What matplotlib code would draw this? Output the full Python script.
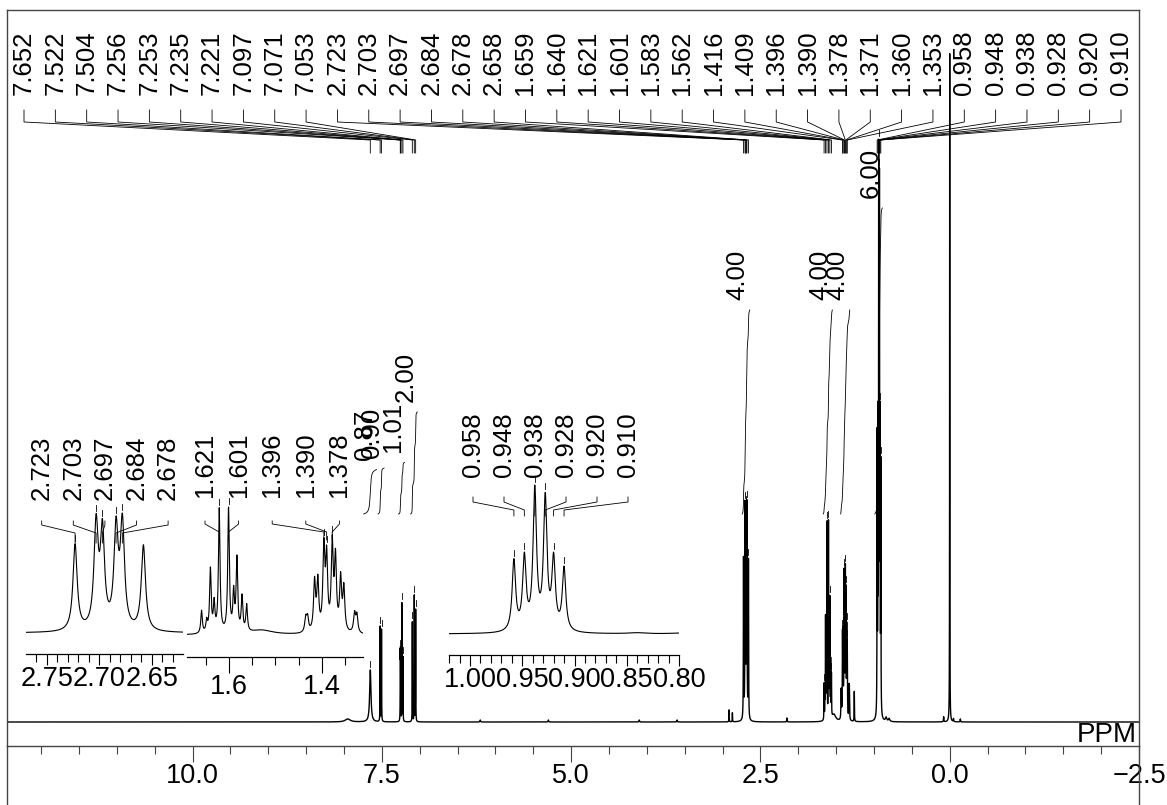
import numpy as np
import matplotlib.pyplot as plt
from matplotlib.lines import Line2D
from matplotlib.ticker import MultipleLocator, FixedLocator
from matplotlib.transforms import Affine2D, blended_transform_factory

plt.rcParams["font.family"] = ["Liberation Sans", "DejaVu Sans"]

W, H = 1167, 805

# picked lines (ppm) and their heights, one set per multiplet
arom_ppm = [7.652, 7.522, 7.504, 7.256, 7.253, 7.235, 7.221, 7.097, 7.071, 7.053]
arom_hgt = [52, 95, 92, 60, 62, 118, 64, 100, 126, 112]
arom_wid = [0.010, 0.0016, 0.0016, 0.0015, 0.0015, 0.0015, 0.0015, 0.0015, 0.0015, 0.0015]

ch2a_ppm = [2.723, 2.703, 2.697, 2.684, 2.678, 2.658]
ch2a_hgt = [160, 190, 175, 180, 190, 158]

ch2b_ppm = [1.659, 1.640, 1.621, 1.601, 1.583, 1.562]
ch2b_hgt = [36, 100, 195, 195, 115, 42]

ch2c_ppm = [1.416, 1.409, 1.396, 1.390, 1.378, 1.371, 1.360, 1.353]
ch2c_hgt = [78, 78, 128, 112, 135, 112, 82, 68]

ch3_ppm = [0.958, 0.948, 0.938, 0.928, 0.920, 0.910]
ch3_hgt = [275, 282, 545, 510, 272, 245]

# half widths (ppm) of each multiplet
ch2a_w, ch2b_w, ch2c_w, ch3_w = 0.0024, 0.0020, 0.0025, 0.0020

# unpicked lines inside the multiplets
extra_ppm = [1.648, 1.632, 1.590, 1.572, 1.435, 1.431, 1.330, 1.325]
extra_hgt = [18, 45, 60, 55, 22, 22, 30, 28]
extra_wid = [0.002, 0.002, 0.002, 0.002, 0.0025, 0.0025, 0.0025, 0.0025]

# TMS, solvent and impurity lines
other_ppm = [7.95, 6.20, 5.30, 4.10, 3.60, 2.914, 2.870, 2.150, 1.530, 1.260,
             0.840, 0.800, 0.080, 0.000, -0.050, -0.140]
other_hgt = [3, 2, 2, 2, 2, 12, 9, 4, 7, 30, 4, 3, 5, 672, 3, 3]
other_wid = [0.04, 0.004, 0.004, 0.004, 0.004, 0.002, 0.002, 0.003, 0.03, 0.002,
             0.01, 0.01, 0.003, 0.0015, 0.003, 0.003]

# integral regions (ppm) and values
integ_hi = [7.74, 7.55, 7.28, 7.12, 2.74, 1.67, 1.44, 0.99]
integ_lo = [7.57, 7.47, 7.20, 7.03, 2.64, 1.55, 1.32, 0.89]
integ_val = [0.87, 0.90, 1.01, 2.00, 4.00, 4.00, 4.00, 6.00]

major_ticks = [10.0, 7.5, 5.0, 2.5, 0.0, -2.5]

picked = arom_ppm + ch2a_ppm + ch2b_ppm + ch2c_ppm + ch3_ppm

line_ppm = np.array(picked + extra_ppm + other_ppm)
line_hgt = np.array(arom_hgt + ch2a_hgt + ch2b_hgt + ch2c_hgt + ch3_hgt + extra_hgt + other_hgt, float)
line_wid = np.array(arom_wid + [ch2a_w] * len(ch2a_ppm) + [ch2b_w] * len(ch2b_ppm)
                    + [ch2c_w] * len(ch2c_ppm) + [ch3_w] * len(ch3_ppm) + extra_wid + other_wid)


def spectrum(x):
    x = np.atleast_1d(np.asarray(x, float))
    d = (x[:, None] - line_ppm[None, :]) / line_wid[None, :]
    return (line_hgt[None, :] / (1.0 + d ** 2)).sum(axis=1)


def box(l, t, r, b):
    return [l / W, 1 - b / H, (r - l) / W, (b - t) / H]


PIX = Affine2D().scale(1, -1).translate(0, H)
FRAME = "#444444"
LAB_SIZE = 18.5

fig = plt.figure(figsize=(W / 100, H / 100), dpi=100)

# ---- main spectrum -------------------------------------------------------
ax = fig.add_axes(box(7, 10, 1139, 746))
ax.set_xlim(12.45, -2.5)
ax.set_ylim(-24, 712)
xm = np.linspace(12.45, -2.5, 60001)
ym = spectrum(xm)
ax.plot(xm, ym, color="black", lw=1.0)

for sp in ax.spines.values():
    sp.set_color(FRAME)
    sp.set_linewidth(1.0)
ax.set_yticks([])
ax.set_xticks(major_ticks)
ax.set_xticklabels([f"{t:.1f}".replace("-", "\u2212") for t in major_ticks])
ax.xaxis.set_minor_locator(MultipleLocator(0.5))
ax.tick_params(axis="x", which="major", direction="out", length=11.5, width=0.8,
               color=FRAME, labelsize=19.5, pad=1)
ax.tick_params(axis="x", which="minor", direction="out", length=5.8, width=0.8, color=FRAME)

# frame continues below the scale line
for xpix in (7, 1139):
    fig.add_artist(Line2D([xpix / W, xpix / W], [0, (H - 746) / H],
                          transform=fig.transFigure, color=FRAME, lw=1.0))

ax.text(1.0 - 2 / 1132, (746 - 742) / 736, "PPM", transform=ax.transAxes,
        ha="right", va="baseline", fontsize=20)


def px_to_ppm(a, px):
    return a.transData.inverted().transform((px, 0))[0]


def top_py(a, p, y):
    return H - a.transData.transform((p, y))[1]


def annotate_peaks(a, peaks, heights, lab_px, lab_bottom, rows):
    tr = blended_transform_factory(a.transData, PIX)
    t0, t1, sl, sb = rows
    for p, h, xp in zip(peaks, heights, lab_px):
        xl = px_to_ppm(a, xp)
        a.text(xl, lab_bottom, f"{p:.3f}", transform=tr, rotation=90,
               ha="center", va="bottom", fontsize=LAB_SIZE)
        a.plot([xl, xl, p, p], [t0, t1, sl, sb], transform=tr,
               color="black", lw=0.6, clip_on=False)
        yt = top_py(a, p, h)
        a.plot([p, p], [yt - 9, yt - 3], transform=tr, color="black", lw=0.6, clip_on=False)


annotate_peaks(ax, picked, spectrum(picked), np.linspace(24, 1121, len(picked)),
               95, (110, 122, 140, 153))

# integrals
integ_base, integ_unit = 208, 51
for hi, lo, val in zip(integ_hi, integ_lo, integ_val):
    m = (xm <= hi) & (xm >= lo)
    xs = xm[m]
    c = np.cumsum(ym[m])
    ys = integ_base + val * integ_unit * c / c[-1]
    ax.plot(xs, ys, color="black", lw=0.6)
    ax.text(xs[-1] + 12 / 75.72, ys[-1] + 10, f"{val:.2f}", rotation=90,
            ha="center", va="bottom", fontsize=LAB_SIZE)


# ---- expansions ----------------------------------------------------------
def expansion(l, r, hi, lo, base, top, axis, majors, minor, fmt, maj_len,
              labels, lab_px, lab_bottom, rows):
    a = fig.add_axes(box(l, 380, r, axis))
    a.patch.set_visible(False)
    xs = np.linspace(hi, lo, 4000)
    ys = spectrum(xs)
    peak = ys.max()
    ys = ys / peak
    s = base - top
    y0 = -(axis - base) / s
    a.set_xlim(hi, lo)
    a.set_ylim(y0, y0 + (axis - 380) / s)
    a.plot(xs, ys, color="black", lw=0.8)
    for sp in ("left", "right", "top"):
        a.spines[sp].set_visible(False)
    a.spines["bottom"].set_color("black")
    a.spines["bottom"].set_linewidth(0.9)
    a.set_yticks([])
    a.xaxis.set_major_locator(FixedLocator(majors))
    a.xaxis.set_minor_locator(MultipleLocator(minor))
    a.set_xticklabels([fmt % t for t in majors])
    a.tick_params(axis="x", which="major", direction="out", length=maj_len * 0.72,
                  width=0.8, labelsize=19.5, pad=1)
    a.tick_params(axis="x", which="minor", direction="out", length=5.8, width=0.8)
    annotate_peaks(a, labels, spectrum(labels) / peak, lab_px, lab_bottom, rows)
    return a


expansion(26, 183, 2.7697, 2.6203, 633, 513, 654, [2.75, 2.70, 2.65], 0.01, "%.2f", 11,
          ch2a_ppm[:5], 41.7 + 31.6 * np.arange(5), 500, (521, 525, 533, 543))
expansion(187, 363, 1.6903, 1.3118, 635, 507, 657, [1.6, 1.4], 0.05, "%.1f", 16,
          [1.621, 1.601, 1.396, 1.390, 1.378], 205 + 33.6 * np.arange(5), 497,
          (521, 524, 532, 540))
expansion(449, 679, 1.0201, 0.80, 634, 485, 655, [1.00, 0.95, 0.90, 0.85, 0.80], 0.01, "%.2f", 11,
          ch3_ppm, 473 + 31 * np.arange(6), 477, (497, 502, 510, 516))

fig.savefig("out.png", dpi=100)
